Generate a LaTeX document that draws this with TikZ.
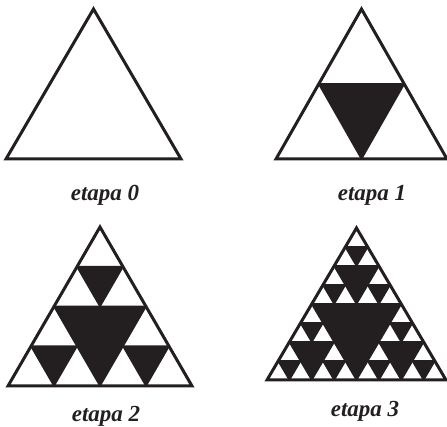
\documentclass[tikz,border=0pt]{standalone}
\usepackage{fontspec}
\setmainfont{Liberation Serif}
\usetikzlibrary{calc}
\definecolor{tinta}{RGB}{35,31,32}

% huecos negros del triangulo de Sierpinski: nivel, x, y (esquina izq.), ancho, alto
\newcommand{\huecos}[5]{%
  \ifnum#1>0\relax
    \begingroup
    \pgfmathsetmacro\mw{#4/2}%
    \pgfmathsetmacro\mh{#5/2}%
    \pgfmathtruncatemacro\sig{#1-1}%
    \pgfmathsetmacro\xa{#2+\mw/2}%
    \pgfmathsetmacro\xb{#2+\mw}%
    \pgfmathsetmacro\xc{#2+\mw*1.5}%
    \pgfmathsetmacro\ya{#3-\mh}%
    \filldraw[hueco] (\xa,\ya) -- (\xc,\ya) -- (\xb,#3) -- cycle;
    \edef\siguiente{%
      \noexpand\huecos{\sig}{#2}{#3}{\mw}{\mh}%
      \noexpand\huecos{\sig}{\xb}{#3}{\mw}{\mh}%
      \noexpand\huecos{\sig}{\xa}{\ya}{\mw}{\mh}}%
    \siguiente
    \endgroup
  \fi}

% etapa completa: nivel, x, y, ancho, alto
\newcommand{\etapa}[5]{%
  \huecos{#1}{#2}{#3}{#4}{#5}
  \draw[borde] (#2,#3) -- ($(#2,#3)+(#4,0)$) -- ($(#2,#3)+(#4/2,-#5)$) -- cycle;}

\begin{document}
\begin{tikzpicture}[
  x=1pt,y=-1pt,
  borde/.style={draw=tinta,line width=3pt},
  hueco/.style={fill=tinta,draw=tinta,line width=1.5pt,line join=bevel},
  rotulo/.style={anchor=base,text=tinta,font=\fontsize{23}{27}\selectfont\bfseries\itshape}
]
\useasboundingbox (0,0) rectangle (447,427);
\etapa{0}{6}{159}{175}{150}
\etapa{1}{276}{159}{171}{150}
\etapa{2}{8}{386}{184}{159}
\etapa{3}{267}{380}{179}{152}
\node[rotulo] (e0) at (105,201) {etapa 0};
\node[rotulo] (e1) at (372,201) {etapa 1};
\node[rotulo] (e2) at (106,421) {etapa 2};
\node[rotulo] (e3) at (365,416) {etapa 3};
\end{tikzpicture}
\end{document}
